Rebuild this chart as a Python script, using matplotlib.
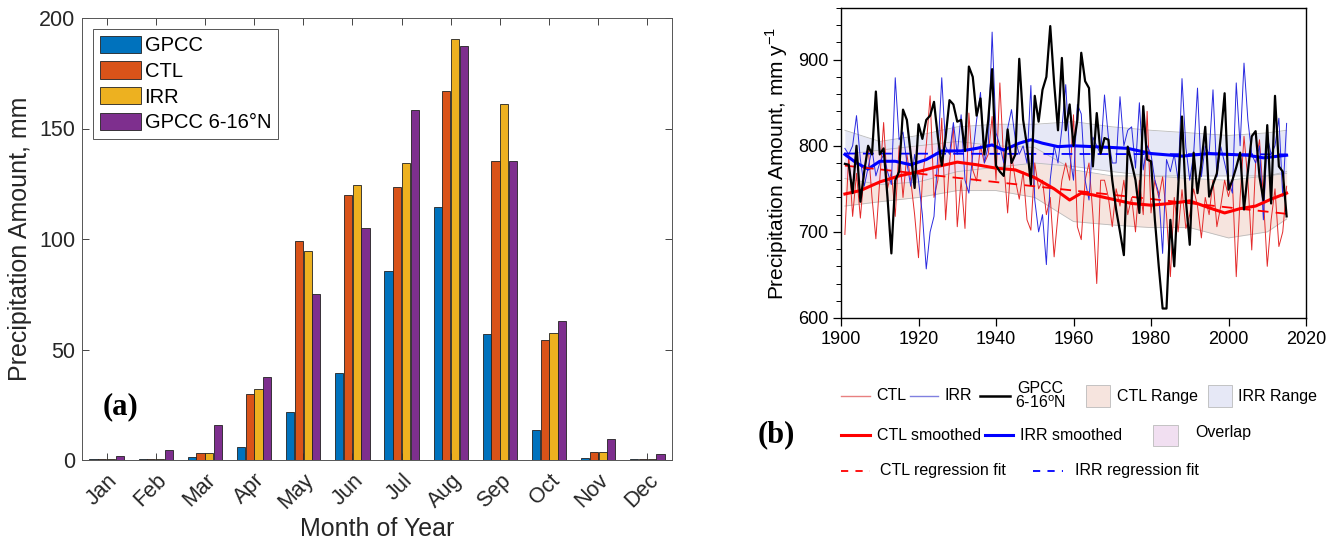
import numpy as np
import matplotlib
matplotlib.use("Agg")
import matplotlib.pyplot as plt
from matplotlib.patches import Rectangle

plt.rcParams["font.family"] = ["Liberation Sans", "DejaVu Sans"]

# ---------------- panel (a) data ----------------
months = ["Jan", "Feb", "Mar", "Apr", "May", "Jun", "Jul", "Aug", "Sep", "Oct", "Nov", "Dec"]
gpcc_m = [0.3, 0.3, 1.5, 6.0, 21.5, 39.5, 85.5, 114.5, 57.0, 13.5, 1.0, 0.3]
ctl_m = [0.3, 0.3, 3.0, 30.0, 99.0, 120.0, 123.5, 167.0, 135.5, 54.5, 3.5, 0.3]
irr_m = [0.3, 0.3, 3.3, 32.0, 94.5, 124.5, 134.5, 190.5, 161.0, 57.5, 3.5, 0.3]
gpcc616_m = [2.0, 4.5, 16.0, 37.5, 75.0, 105.0, 158.5, 187.5, 135.5, 63.0, 9.5, 2.5]
bar_names = ["GPCC", "CTL", "IRR", "GPCC 6-16°N"]
bar_colors = ["#0072BD", "#D95319", "#EDB120", "#7E2F8E"]

# ---------------- panel (b) data ----------------
first_year = 1901
gpcc_ann = [
    779, 778, 745, 800, 735, 770, 800, 790, 863, 790,
    797, 740, 675, 760, 770, 842, 830, 790, 751, 825,
    808, 830, 835, 851, 810, 777, 810, 853, 848, 828,
    830, 794, 892, 880, 835, 855, 790, 830, 889, 777,
    770, 765, 819, 780, 790, 901, 830, 800, 755, 858,
    828, 865, 880, 939, 873, 818, 902, 818, 848, 800,
    830, 908, 875, 867, 776, 838, 791, 809, 807, 760,
    726, 700, 673, 799, 780, 760, 722, 846, 784, 782,
    714, 660, 611, 611, 714, 660, 750, 834, 737, 685,
    792, 745, 780, 822, 741, 755, 768, 810, 861, 749,
    760, 775, 792, 726, 770, 811, 817, 764, 737, 824,
    733, 858, 776, 770, 718,
]
irr_ann = [
    797, 790, 800, 835, 784, 753, 775, 796, 765, 780,
    790, 770, 755, 879, 807, 816, 780, 753, 790, 760,
    720, 657, 700, 718, 790, 879, 799, 790, 827, 790,
    836, 760, 745, 790, 830, 862, 780, 800, 932, 815,
    800, 780, 820, 842, 807, 790, 800, 780, 870, 737,
    700, 720, 662, 761, 800, 780, 820, 871, 790, 760,
    848, 837, 760, 737, 810, 800, 790, 859, 810, 780,
    780, 857, 800, 818, 822, 774, 850, 772, 800, 790,
    760, 745, 675, 784, 770, 790, 760, 878, 798, 760,
    790, 867, 764, 800, 790, 865, 764, 799, 780, 760,
    745, 873, 800, 896, 830, 790, 780, 800, 714, 811,
    790, 800, 832, 741, 826,
]
ctl_ann = [
    697, 790, 718, 768, 716, 770, 800, 740, 692, 760,
    827, 750, 770, 718, 800, 740, 790, 760, 720, 670,
    760, 800, 858, 740, 760, 832, 714, 780, 823, 706,
    760, 704, 838, 772, 759, 800, 780, 790, 834, 760,
    873, 780, 722, 790, 760, 738, 770, 714, 702, 780,
    750, 760, 720, 740, 671, 720, 760, 780, 760, 836,
    706, 691, 760, 780, 720, 640, 760, 760, 740, 706,
    750, 730, 760, 720, 740, 700, 760, 720, 840, 722,
    760, 740, 764, 720, 648, 740, 700, 749, 704, 720,
    750, 730, 693, 740, 720, 760, 706, 730, 760, 741,
    760, 648, 740, 811, 760, 679, 780, 807, 740, 660,
    714, 750, 683, 700, 753,
]

# smoothed curves, read at a few years
ctl_smooth_yr = [1901, 1905, 1910, 1915, 1920, 1925, 1930, 1935, 1940, 1945, 1950, 1955,
                 1959, 1962, 1965, 1970, 1975, 1980, 1985, 1990, 1995, 1999, 2003, 2007, 2011, 2015]
ctl_smooth = [744, 748, 758, 765, 770, 776, 781, 778, 774, 772, 763, 750,
              737, 745, 743, 738, 733, 731, 733, 736, 728, 722, 727, 730, 738, 745]
irr_smooth_yr = [1901, 1904, 1907, 1910, 1914, 1918, 1922, 1926, 1931, 1935, 1939, 1942,
                 1946, 1949, 1952, 1956, 1960, 1965, 1970, 1974, 1980, 1988, 1995, 2005, 2009, 2015]
irr_smooth = [790, 780, 773, 782, 782, 778, 784, 794, 794, 797, 801, 795,
              803, 807, 803, 799, 800, 799, 798, 797, 791, 788, 791, 789, 786, 789]

# regression fits (end points)
fit_years = [1901, 2015]
ctl_fit = [777, 721]
irr_fit = [791, 790]

# ensemble ranges
range_yr = [1901, 1910, 1920, 1930, 1940, 1950, 1960, 1970, 1980, 1990, 2000, 2010, 2015]
ctl_hi = [790, 795, 800, 805, 800, 798, 772, 765, 765, 762, 760, 765, 770]
ctl_lo = [730, 735, 740, 748, 748, 740, 712, 708, 705, 705, 693, 700, 715]
irr_hi = [818, 805, 812, 822, 825, 825, 828, 822, 818, 815, 812, 815, 818]
irr_lo = [762, 755, 758, 770, 775, 780, 776, 770, 765, 765, 765, 765, 768]

W, H = 1336, 544
fig = plt.figure(figsize=(W / 100, H / 100), dpi=100)


def fbox(l, t, r, b):
    return [l / W, 1 - b / H, (r - l) / W, (b - t) / H]


# ================= panel (a) =================
ax = fig.add_axes(fbox(82, 18, 672, 460))
x = np.arange(1, 13)
bw = 0.165
step = 0.178
for i, (vals, c, name) in enumerate(zip([gpcc_m, ctl_m, irr_m, gpcc616_m], bar_colors, bar_names)):
    ax.bar(x + (i - 1.5) * step, vals, width=bw, color=c, edgecolor="#222222",
           linewidth=0.6, label=name, zorder=2)
ax.set_xlim(0.5, 12.5)
ax.set_ylim(0, 200)
ax.set_yticks([0, 50, 100, 150, 200])
ax.set_xticks(x)
ax.set_xticklabels(months, rotation=45, ha="right", rotation_mode="anchor")
ax.tick_params(direction="in", top=True, right=True, length=5, width=0.6,
               labelsize=15.5, colors="#262626", pad=5)
ax.tick_params(axis="x", pad=7)
for s in ax.spines.values():
    s.set_color("#555555")
    s.set_linewidth(0.7)
ax.set_ylabel("Precipitation Amount, mm", fontsize=18, color="#262626", labelpad=5)
ax.set_xlabel("Month of Year", fontsize=18, color="#262626", labelpad=3)
leg = ax.legend(loc="upper left", bbox_to_anchor=(0.019, 0.976), fontsize=14.5,
                handlelength=2.0, handleheight=0.95, handletextpad=0.2,
                labelspacing=0.3, borderpad=0.35, borderaxespad=0, fancybox=False,
                framealpha=1)
leg.get_frame().set_edgecolor("#555555")
leg.get_frame().set_linewidth(0.7)
ax.text(0.035, 0.12, "(a)", transform=ax.transAxes, fontsize=22, fontweight="bold",
        family=["Liberation Serif", "DejaVu Serif"], va="center", ha="left")

# ================= panel (b) =================
bx = fig.add_axes(fbox(841, 8, 1306, 318))
yrs = np.arange(first_year, first_year + len(gpcc_ann))

ctl_hi_i = np.interp(yrs, range_yr, ctl_hi)
ctl_lo_i = np.interp(yrs, range_yr, ctl_lo)
irr_hi_i = np.interp(yrs, range_yr, irr_hi)
irr_lo_i = np.interp(yrs, range_yr, irr_lo)
bx.fill_between(yrs, ctl_lo_i, ctl_hi_i, color="#F6E4DE", lw=0, zorder=1)
bx.fill_between(yrs, irr_lo_i, irr_hi_i, color="#E6E8F6", lw=0, zorder=1)
bx.fill_between(yrs, irr_lo_i, np.minimum(ctl_hi_i, irr_hi_i),
                where=ctl_hi_i > irr_lo_i, color="#F1DFF1", lw=0, zorder=1)
for arr in (ctl_hi_i, ctl_lo_i, irr_hi_i, irr_lo_i):
    bx.plot(yrs, arr, color="#BBBBBB", lw=0.6, zorder=1.5)

bx.plot(yrs, ctl_ann, color="#E42A2A", lw=0.7, zorder=2)
bx.plot(yrs, irr_ann, color="#2A2AE0", lw=0.7, zorder=2)
bx.plot(ctl_smooth_yr, ctl_smooth, color="#FF0000", lw=2.2, zorder=3)
bx.plot(irr_smooth_yr, irr_smooth, color="#0000FF", lw=2.2, zorder=3)
bx.plot(fit_years, ctl_fit, color="#FF0000", lw=1.3, ls=(0, (6, 4)), zorder=3)
bx.plot(fit_years, irr_fit, color="#0000FF", lw=1.3, ls=(0, (6, 4)), zorder=3)
bx.plot(yrs, gpcc_ann, color="black", lw=1.6, zorder=4)

bx.set_xlim(1900, 2020)
bx.set_ylim(600, 960)
bx.set_xticks(np.arange(1900, 2021, 20))
bx.set_yticks([600, 700, 800, 900])
bx.set_yticks(np.arange(600, 961, 20), minor=True)
bx.tick_params(direction="out", length=6, width=0.9, labelsize=13, pad=3, top=False, right=False)
bx.tick_params(axis="y", which="minor", direction="out", length=3.5, width=0.7)
for s in bx.spines.values():
    s.set_linewidth(1.0)
bx.set_ylabel("Precipitation Amount, mm y$^{\\mathregular{-1}}$", fontsize=15, labelpad=6)

# ---- legend for (b), drawn in figure pixels ----
lax = fig.add_axes([0, 0, 1, 1])
lax.set_xlim(0, W)
lax.set_ylim(H, 0)
lax.axis("off")
fs = 11.5
r1, r2, r3 = 396, 435, 471
lax.plot([841, 870], [r1, r1], color="#E88080", lw=1.0)
lax.text(876, r1, "CTL", fontsize=fs, va="center")
lax.plot([910, 938], [r1, r1], color="#8080E0", lw=1.0)
lax.text(944, r1, "IRR", fontsize=fs, va="center")
lax.plot([980, 1010], [r1, r1], color="black", lw=1.8)
lax.text(1040, r1, "GPCC\n6-16$^{\\mathregular{o}}$N", fontsize=fs, va="center", ha="center",
         linespacing=0.95)
lax.add_patch(Rectangle((1086, r1 - 11), 24, 22, facecolor="#F6E4DE", edgecolor="#BBBBBB", lw=0.6))
lax.text(1117, r1, "CTL Range", fontsize=fs, va="center")
lax.add_patch(Rectangle((1208, r1 - 11), 24, 22, facecolor="#E6E8F6", edgecolor="#BBBBBB", lw=0.6))
lax.text(1238, r1, "IRR Range", fontsize=fs, va="center")

lax.plot([841, 870], [r2, r2], color="#FF0000", lw=2.2)
lax.text(877, r2, "CTL smoothed", fontsize=fs, va="center")
lax.plot([985, 1013], [r2, r2], color="#0000FF", lw=2.2)
lax.text(1020, r2, "IRR smoothed", fontsize=fs, va="center")
lax.add_patch(Rectangle((1153, r2 - 10), 25, 21, facecolor="#F1DFF1", edgecolor="#BBBBBB", lw=0.6))
lax.text(1195, r2 - 3, "Overlap", fontsize=fs, va="center")

lax.plot([841, 870], [r3, r3], color="#FF0000", lw=1.3, ls=(0, (4, 4)))
lax.text(880, r3, "CTL regression fit", fontsize=fs, va="center")
lax.plot([1033, 1063], [r3, r3], color="#0000FF", lw=1.3, ls=(0, (4, 4)))
lax.text(1075, r3, "IRR regression fit", fontsize=fs, va="center")

lax.text(776, 435, "(b)", fontsize=22, fontweight="bold",
         family=["Liberation Serif", "DejaVu Serif"], va="center", ha="center")

fig.savefig("out.png", dpi=100)
plt.close(fig)
